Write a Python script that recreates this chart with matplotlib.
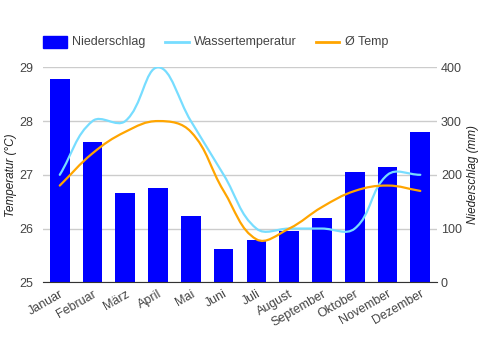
import numpy as np
import matplotlib
matplotlib.use("Agg")
import matplotlib.pyplot as plt
from matplotlib.path import Path
from matplotlib.patches import PathPatch, Rectangle
from matplotlib.lines import Line2D

months = ["Januar", "Februar", "März", "April", "Mai", "Juni", "Juli",
          "August", "September", "Oktober", "November", "Dezember"]
niederschlag = [378, 261, 166, 176, 123, 62, 79, 96, 120, 205, 214, 280]
wassertemp = [27.0, 28.0, 28.0, 29.0, 28.0, 27.0, 26.0, 26.0, 26.0, 26.0, 27.0, 27.0]
temp = [26.8, 27.4, 27.8, 28.0, 27.8, 26.7, 25.8, 26.0, 26.4, 26.7, 26.8, 26.7]

plt.rcParams['font.family'] = ['Liberation Sans', 'DejaVu Sans']
TXT = '#444444'

fig = plt.figure(figsize=(4.81, 3.5), dpi=100)
ax2 = fig.add_axes([0.0902, 0.1934, 0.8177, 0.6143])  # bars (right axis)
ax = ax2.twinx()
ax2.yaxis.tick_right(); ax2.yaxis.set_label_position('right')
ax.yaxis.tick_left(); ax.yaxis.set_label_position('left')

x = np.arange(len(months))
ax2.bar(x, niederschlag, width=0.6, color='#0000FF', zorder=2)
ax2.set_ylim(0, 400)
ax2.set_xlim(-0.5, 11.5)
ax2.set_yticks([0, 100, 200, 300, 400])
ax2.grid(axis='y', color='#cccccc', linewidth=1.0, zorder=0)
ax2.set_axisbelow(True)

ax.set_ylim(25, 29)
ax.set_yticks([25, 26, 27, 28, 29])
ax.set_xlim(-0.5, 11.5)

for a in (ax, ax2):
    for s in ('top', 'left', 'right'):
        a.spines[s].set_visible(False)
    a.tick_params(axis='y', length=0, labelsize=9, colors=TXT)
ax2.spines['bottom'].set_color('#333333')
ax.spines['bottom'].set_visible(False)
ax.tick_params(axis='y', pad=7)
ax2.tick_params(axis='y', pad=3)

ax2.set_xticks(x)
ax2.set_xticklabels(months, rotation=30, ha='right', rotation_mode='anchor',
                    fontsize=9, color=TXT)
ax2.tick_params(axis='x', length=0, pad=4)

ax.set_ylabel('Temperatur (°C)', fontsize=8.5, style='italic', color='#222222', labelpad=2)
ax2.set_ylabel('Niederschlag (mm)', fontsize=8.5, style='italic', color='#222222', labelpad=4)

fig.canvas.draw()

def spline_path(axis, xs, ys, tension=0.4):
    pts = axis.transData.transform(np.column_stack([xs, ys]))
    n = len(pts)
    cps_prev = np.zeros_like(pts); cps_next = np.zeros_like(pts)
    for i in range(n):
        p0 = pts[max(i - 1, 0)]; p1 = pts[i]; p2 = pts[min(i + 1, n - 1)]
        d01 = np.hypot(*(p1 - p0)); d12 = np.hypot(*(p2 - p1))
        tot = d01 + d12
        s01 = d01 / tot if tot else 0; s12 = d12 / tot if tot else 0
        fa = tension * s01; fb = tension * s12
        cps_prev[i] = p1 - fa * (p2 - p0)
        cps_next[i] = p1 + fb * (p2 - p0)
    verts = [pts[0]]; codes = [Path.MOVETO]
    for i in range(n - 1):
        verts += [cps_next[i], cps_prev[i + 1], pts[i + 1]]
        codes += [Path.CURVE4] * 3
    inv = axis.transData.inverted()
    return Path(inv.transform(np.array(verts)), codes)

ax.add_patch(PathPatch(spline_path(ax, x, wassertemp), fill=False,
                       edgecolor='#77DDFF', linewidth=1.6, zorder=3, capstyle='round'))
ax.add_patch(PathPatch(spline_path(ax, x, temp), fill=False,
                       edgecolor='#FFA500', linewidth=1.6, zorder=4, capstyle='round'))

# legend (figure pixel coords)
W, H = 481, 350
def fx(px): return px / W
def fy(py): return 1 - py / H
fig.add_artist(Rectangle((fx(43.3), fy(47.7)), fx(66.7) - fx(43.3), fy(36) - fy(47.7),
                         transform=fig.transFigure, color='#0000FF'))
fig.text(fx(72), fy(42), 'Niederschlag', fontsize=9, color=TXT, va='center')
fig.add_artist(Line2D([fx(165), fx(189)], [fy(42), fy(42)], transform=fig.transFigure,
                      color='#77DDFF', linewidth=2))
fig.text(fx(194), fy(42), 'Wassertemperatur', fontsize=9, color=TXT, va='center')
fig.add_artist(Line2D([fx(316), fx(339)], [fy(42), fy(42)], transform=fig.transFigure,
                      color='#FFA500', linewidth=2))
fig.text(fx(345), fy(42), 'Ø Temp', fontsize=9, color=TXT, va='center')

fig.savefig('out.png', dpi=100)
